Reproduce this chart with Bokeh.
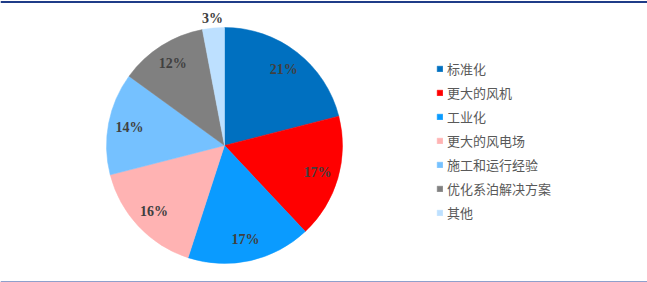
import numpy as np
from bokeh.plotting import figure
from bokeh.models import Range1d, Span, Legend, LegendItem, ColumnDataSource
from bokeh.core.properties import value
from bokeh.embed import file_html
from bokeh.resources import INLINE

categories = ["标准化", "更大的风机", "工业化", "更大的风电场", "施工和运行经验", "优化系泊解决方案", "其他"]
values = [21, 17, 17, 16, 14, 12, 3]
labels = ["21%", "17%", "17%", "16%", "14%", "12%", "3%"]
colors = ["#0070C0", "#FF0000", "#0A9BFF", "#FFB3B3", "#75C1FF", "#808080", "#BDE0FF"]

W, H = 647, 282
p = figure(width=W, height=H, output_backend="svg", toolbar_location=None,
           x_range=Range1d(0, W), y_range=Range1d(0, H), min_border=0)
p.axis.visible = False
p.grid.visible = False
p.outline_line_color = None
p.background_fill_color = "white"

cx, cy, R = 224, 137, 118
vals = np.array(values, dtype=float)
frac = vals / vals.sum()
cum = np.concatenate([[0], np.cumsum(frac)])
start = np.pi / 2 - cum[:-1] * 2 * np.pi
end = np.pi / 2 - cum[1:] * 2 * np.pi
mid = (start + end) / 2
lr = np.where(vals < 5, 1.08 * R, 0.82 * R)

src = ColumnDataSource(dict(start=start, end=end, color=colors, cat=categories,
                            lx=cx + lr * np.cos(mid), ly=cy + lr * np.sin(mid), lab=labels))

w = p.wedge(x=cx, y=cy, radius=R, start_angle="start", end_angle="end", direction="clock",
            fill_color="color", line_color="color", line_width=0.5, source=src)

p.text(x="lx", y="ly", text="lab", source=src, text_align="center", text_baseline="middle",
       text_font=value("Liberation Serif"), text_font_style="bold", text_font_size="14px",
       text_color="#404040")

items = [LegendItem(label=c, renderers=[w], index=i) for i, c in enumerate(categories)]
legend = Legend(items=items, location=(436, 60), glyph_width=7, glyph_height=7,
                label_standoff=4, spacing=5, label_height=16, padding=0, margin=0,
                border_line_color=None, background_fill_alpha=0,
                label_text_font="Noto Sans CJK SC", label_text_font_size="13px",
                label_text_color="#595959")
p.add_layout(legend)

p.add_layout(Span(location=H - 1.5, dimension="width", line_color="#1F3C88", line_width=2))
p.add_layout(Span(location=1, dimension="width", line_color="#8FA0CC", line_width=1))

open("out.html", "w").write(file_html(p, INLINE))
